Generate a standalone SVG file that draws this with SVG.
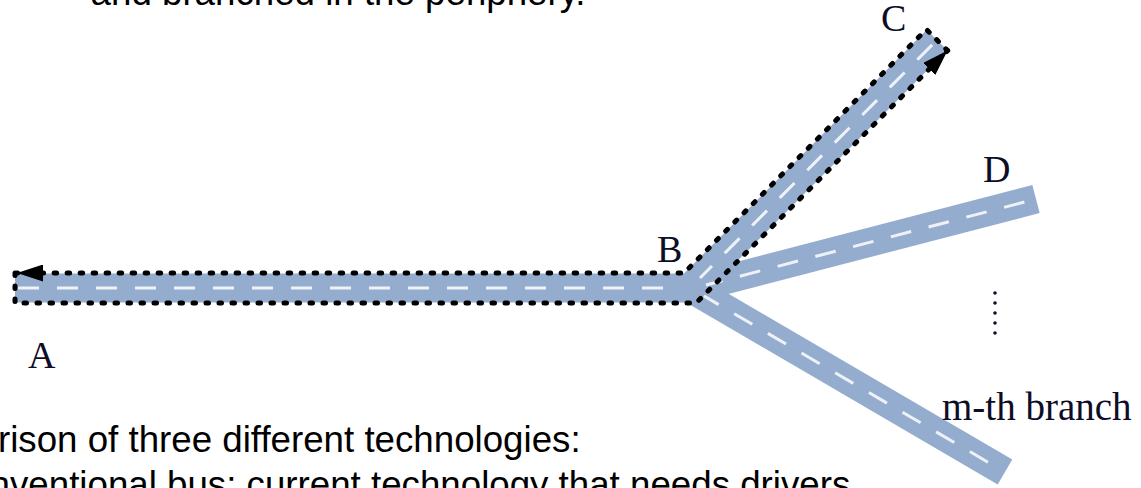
<svg xmlns="http://www.w3.org/2000/svg" width="1141" height="488" viewBox="0 0 1141 488">
  <style>
    .body { font-family: "Liberation Sans", Arial, sans-serif; font-size: 36.7px; fill: #000; }
    .lbl { font-family: "Liberation Serif", "Times New Roman", serif; font-size: 38px; fill: #0d0d26; }
    .road { fill: none; stroke: #94adcf; stroke-width: 29; stroke-linecap: butt; }
    .lane { fill: none; stroke: #eef2f8; stroke-width: 3; stroke-dasharray: 21 18; }
    .route { fill: none; stroke: #000; stroke-width: 5; stroke-linecap: round; stroke-linejoin: round; stroke-dasharray: 2.5 10.5; }
  </style>
  <defs>
    <marker id="head" markerUnits="userSpaceOnUse" markerWidth="27" markerHeight="17" refX="26" refY="8.5" orient="auto">
      <path d="M0,0 L26,8.5 L0,17 Z" fill="#000"/>
    </marker>
  </defs>

  <rect width="1141" height="488" fill="#fff"/>

  <!-- caption text above and below the figure -->
  <text class="body" x="90.6" y="5">and branched in the periphery.</text>
  <text class="body" x="-2" y="452">rison of three different technologies:</text>
  <text class="body" x="-10.4" y="497">nventional bus: current technology that needs drivers</text>

  <!-- connectors: bus roads from junction B -->
  <g id="connectors">
    <g id="roads">
      <path class="road" d="M15,288 H692"/>
      <path class="road" d="M690,288 L937,40"/>
      <path class="road" d="M690,289 L1036,199"/>
      <path class="road" d="M690,288 L1005,472"/>
      <circle cx="690" cy="288" r="14.5" fill="#94adcf"/>
    </g>
    <g id="lanes">
      <path class="lane" d="M18,288 H680"/>
      <path class="lane" d="M700,278 L935,42" stroke-dashoffset="4"/>
      <path class="lane" d="M706,285 L1036,199" stroke-dashoffset="4"/>
      <path class="lane" d="M704,296 L1003,471" stroke-dashoffset="4"/>
    </g>
    <!-- dotted route outline A to C with direction arrows -->
    <g id="route">
      <path class="route" d="M947.6,50.6 L926.4,29.4 L684,273 H17" marker-end="url(#head)"/>
      <path class="route" d="M15,273 V303 H696 L947.6,50.6" marker-end="url(#head)"/>
    </g>
  </g>

  <g id="node-A"><text class="lbl" x="28" y="368">A</text></g>
  <g id="node-B"><text class="lbl" x="657" y="262">B</text></g>
  <g id="node-C"><text class="lbl" x="881" y="31">C</text></g>
  <g id="node-D"><text class="lbl" x="983" y="182">D</text></g>
  <g id="node-m">
    <text class="lbl" x="942" y="420" style="font-size:39px">m-th branch</text>
  </g>
  <!-- vertical ellipsis between D and the m-th branch -->
  <g id="ellipsis">
    <path d="M995,293 V343" fill="none" stroke="#0d0d26" stroke-width="3.6" stroke-linecap="round" stroke-dasharray="0 10"/>
  </g>
</svg>
